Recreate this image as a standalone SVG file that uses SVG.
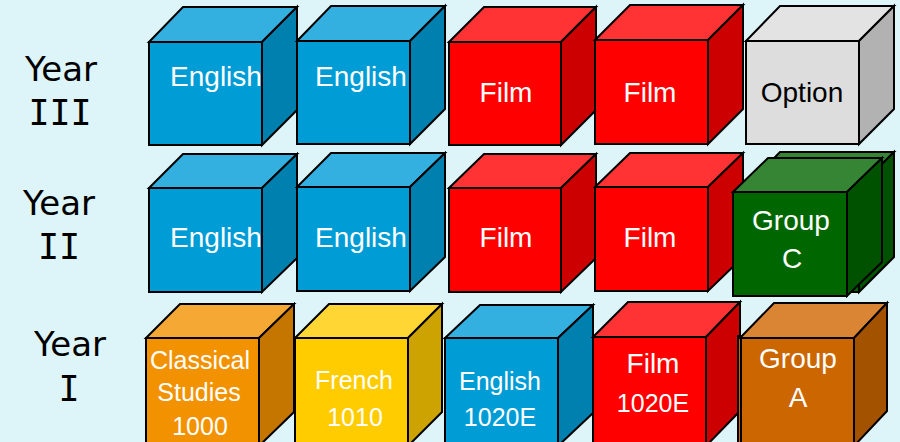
<svg xmlns="http://www.w3.org/2000/svg" width="900" height="442" viewBox="0 0 900 442">
<style>
.e{stroke:#000;stroke-width:2;stroke-linejoin:miter}
.t{font-family:"Liberation Sans",Arial,sans-serif;font-size:28px;fill:#fff;text-anchor:middle}
.s{font-size:25px}
.y{font-family:"DejaVu Sans",sans-serif;font-size:34px;fill:#000;text-anchor:middle}
.n{font-family:"DejaVu Sans Mono",monospace;font-size:35px;fill:#000;text-anchor:middle}
.bf{fill:#009CD6}.bt{fill:#33AFE0}.br{fill:#0080AE}
.rf{fill:#FF0000}.rt{fill:#FF3333}.rr{fill:#CC0000}
.gf{fill:#DDDDDD}.gt{fill:#E3E3E3}.gr{fill:#B2B2B2}
.cf{fill:#006600}.ct{fill:#358535}.cr{fill:#005200}
.of{fill:#F39200}.ot{fill:#F5A834}.or{fill:#C47600}
.yf{fill:#FFCC00}.yt{fill:#FFD633}.yr{fill:#CCA300}
.af{fill:#CC6600}.at{fill:#D98533}.ar{fill:#A35200}
</style>
<rect width="900" height="442" fill="#DDF4F8"/>
<g id="labels">
<text class="y" x="61" y="81">Year</text><text class="n" x="60" y="125">III</text>
<text class="y" x="59" y="215">Year</text><text class="n" x="59" y="259">II</text>
<text class="y" x="70" y="356">Year</text><text class="n" x="69" y="401">I</text>
</g>
<g id="y3-english1">
<polygon class="e bt" points="149,42 183,7 297,7 262,42"/>
<polygon class="e br" points="262,42 297,7 297,110 262,145"/>
<rect class="e bf" x="149" y="42" width="113" height="103"/>
<text class="t" x="216" y="86">English</text>
</g>
<g id="y3-english2">
<polygon class="e bt" points="297,41 331,6 445,6 410,41"/>
<polygon class="e br" points="410,41 445,6 445,109 410,144"/>
<rect class="e bf" x="297" y="41" width="113" height="103"/>
<text class="t" x="361" y="86">English</text>
</g>
<g id="y3-film1">
<polygon class="e rt" points="449,42 484,7 596,7 561,42"/>
<polygon class="e rr" points="561,42 596,7 596,110 561,145"/>
<rect class="e rf" x="449" y="42" width="112" height="103"/>
<text class="t" x="506" y="102">Film</text>
</g>
<g id="y3-film2">
<polygon class="e rt" points="595,40 630,5 743,5 708,40"/>
<polygon class="e rr" points="708,40 743,5 743,109 708,144"/>
<rect class="e rf" x="595" y="40" width="113" height="104"/>
<text class="t" x="650" y="102">Film</text>
</g>
<g id="y3-option">
<polygon class="e gt" points="746,41 780,6 894,6 859,41"/>
<polygon class="e gr" points="859,41 894,6 894,109 859,144"/>
<rect class="e gf" x="746" y="41" width="113" height="103"/>
<text class="t" x="802" y="102" style="fill:#000">Option</text>
</g>
<g id="y2-english1">
<polygon class="e bt" points="149,188 183,154 297,154 262,188"/>
<polygon class="e br" points="262,188 297,154 297,258 262,292"/>
<rect class="e bf" x="149" y="188" width="113" height="104"/>
<text class="t" x="216" y="247">English</text>
</g>
<g id="y2-english2">
<polygon class="e bt" points="297,187 331,153 445,153 410,187"/>
<polygon class="e br" points="410,187 445,153 445,257 410,291"/>
<rect class="e bf" x="297" y="187" width="113" height="104"/>
<text class="t" x="361" y="247">English</text>
</g>
<g id="y2-film1">
<polygon class="e rt" points="449,188 484,154 596,154 561,188"/>
<polygon class="e rr" points="561,188 596,154 596,258 561,292"/>
<rect class="e rf" x="449" y="188" width="112" height="104"/>
<text class="t" x="506" y="247">Film</text>
</g>
<g id="y2-film2">
<polygon class="e rt" points="595,187 630,153 743,153 708,187"/>
<polygon class="e rr" points="708,187 743,153 743,257 708,291"/>
<rect class="e rf" x="595" y="187" width="113" height="104"/>
<text class="t" x="650" y="247">Film</text>
</g>
<g id="y2-groupc">
<polygon class="e ct" points="746,187 780,152 894,152 859,187"/>
<polygon class="e cr" points="859,187 894,152 894,257 859,292"/>
<rect class="e cf" x="746" y="187" width="113" height="105"/>
<polygon class="e ct" points="733,192 768,158 882,158 847,192"/>
<polygon class="e cr" points="847,192 882,158 882,262 847,296"/>
<rect class="e cf" x="733" y="192" width="114" height="104"/>
<text class="t" x="791" y="230">Group</text>
<text class="t" x="792" y="268">C</text>
</g>
<g id="y1-classical">
<polygon class="e ot" points="146,338 180,304 294,304 259,338"/>
<polygon class="e or" points="259,338 294,304 294,412 259,446"/>
<rect class="e of" x="146" y="338" width="113" height="108"/>
<text class="t s" x="200" y="369">Classical</text>
<text class="t s" x="199" y="401">Studies</text>
<text class="t s" x="200" y="435">1000</text>
</g>
<g id="y1-french">
<polygon class="e yt" points="295,338 329,304 442,304 408,338"/>
<polygon class="e yr" points="408,338 442,304 442,412 408,446"/>
<rect class="e yf" x="295" y="338" width="113" height="108"/>
<text class="t s" x="354" y="389">French</text>
<text class="t s" x="355" y="426">1010</text>
</g>
<g id="y1-english">
<polygon class="e bt" points="445,338 480,305 593,305 558,338"/>
<polygon class="e br" points="558,338 593,305 593,413 558,446"/>
<rect class="e bf" x="445" y="338" width="113" height="108"/>
<text class="t s" x="500" y="390">English</text>
<text class="t s" x="500" y="426">1020E</text>
</g>
<g id="y1-film">
<polygon class="e rt" points="593,337 628,302 740,302 706,337"/>
<polygon class="e rr" points="706,337 740,302 740,411 706,446"/>
<rect class="e rf" x="593" y="337" width="113" height="109"/>
<text class="t" x="653" y="373">Film</text>
<text class="t s" x="653" y="412">1020E</text>
</g>
<g id="y1-groupa">
<rect class="e af" x="738" y="336" width="114" height="110"/>
<polygon class="e at" points="740,338 774,303 887,303 854,338"/>
<polygon class="e ar" points="854,338 887,303 887,411 854,446"/>
<rect class="e af" x="741" y="338" width="113" height="108"/>
<text class="t" x="798" y="368">Group</text>
<text class="t" x="798" y="407">A</text>
</g>
</svg>
